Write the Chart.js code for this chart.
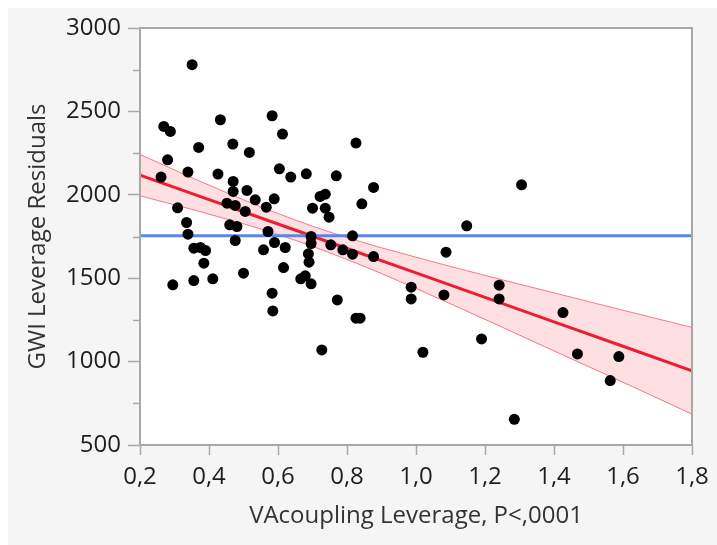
<!DOCTYPE html>
<html lang="en">
<head>
    <meta charset="UTF-8">
    <script src="https://cdn.jsdelivr.net/npm/chart.js"></script>
    <title>GWI Leverage Residuals</title>
    <style>
        body { margin: 0; background: #ffffff; }
        #panel { position: absolute; left: 8px; top: 8px; width: 709px; height: 537px; background: #f5f5f5; }
        #myChart { position: absolute; left: 0; top: 0; }
    </style>
</head>
<body>
    <div id="panel"></div>
    <canvas id="myChart" width="717" height="545"></canvas>

    <script>
        // leverage points
        const vaX = [0.351, 0.269, 0.288, 0.433, 0.583, 0.613, 0.370, 0.469, 0.517, 0.280,
                     0.261, 0.339, 0.426, 0.604, 0.637, 0.682, 0.470, 0.470, 0.510, 0.722,
                     0.737, 0.534, 0.589, 0.452, 0.476, 0.566, 0.505, 0.700, 0.737, 0.748,
                     0.309, 0.335, 0.460, 0.481, 0.339, 0.571, 0.696, 0.696, 0.476, 0.753,
                     0.356, 0.375, 0.390, 0.385, 0.295, 0.356, 0.411, 0.500, 0.558, 0.590,
                     0.621, 0.616, 0.583, 0.585, 0.688, 0.690, 0.666, 0.679, 0.696, 0.727,
                     0.826, 0.769, 0.877, 0.843, 1.147, 0.816, 0.788, 0.816, 0.877, 1.087,
                     0.986, 0.986, 1.081, 0.772, 0.826, 0.838, 1.241, 1.241, 1.190, 1.020,
                     1.306, 1.285, 1.426, 1.468, 1.588, 1.563];
        const gwiY = [2780, 2410, 2380, 2450, 2474, 2364, 2284, 2304, 2254, 2210,
                      2106, 2136, 2124, 2156, 2106, 2126, 2080, 2020, 2026, 1990,
                      2004, 1970, 1976, 1950, 1936, 1926, 1900, 1920, 1920, 1866,
                      1922, 1834, 1820, 1810, 1764, 1780, 1750, 1708, 1726, 1700,
                      1680, 1684, 1666, 1590, 1460, 1486, 1496, 1530, 1670, 1714,
                      1684, 1564, 1410, 1304, 1646, 1596, 1496, 1514, 1466, 1070,
                      2310, 2114, 2044, 1946, 1814, 1754, 1670, 1644, 1630, 1656,
                      1446, 1376, 1400, 1370, 1260, 1260, 1458, 1376, 1136, 1056,
                      2060, 654, 1294, 1046, 1030, 886];

        // fit line and confidence band
        const fitX = [0.2, 0.4, 0.6, 0.8, 1.0, 1.2, 1.4, 1.6, 1.8];
        const fitY = [2118, 1971, 1825, 1678, 1532, 1385, 1238, 1092, 945];
        const bandUpper = [2242, 2058, 1888, 1744, 1626, 1517, 1412, 1308, 1205];
        const bandLower = [1994, 1884, 1762, 1612, 1438, 1253, 1064, 876, 685];
        const meanY = 1755;

        const xTicks = [0.2, 0.4, 0.6, 0.8, 1.0, 1.2, 1.4, 1.6, 1.8];
        const yTicks = [500, 1000, 1500, 2000, 2500, 3000];
        const yMinorTicks = [750, 1250, 1750, 2250, 2750];

        const FONT = "'Open Sans', 'Noto Sans', sans-serif";
        const pts = (xs, ys) => xs.map((x, i) => ({ x: x, y: ys[i] }));

        const framePlugin = {
            id: 'frame',
            beforeDraw(chart) {
                const a = chart.chartArea, c = chart.ctx;
                c.save();
                c.fillStyle = '#ffffff';
                c.fillRect(a.left, a.top, a.right - a.left, a.bottom - a.top);
                c.restore();
            },
            afterDraw(chart) {
                const a = chart.chartArea, c = chart.ctx;
                const ys = chart.scales.y;
                c.save();
                c.strokeStyle = '#a8a8a8';
                c.lineWidth = 2;
                c.strokeRect(a.left, a.top, a.right - a.left, a.bottom - a.top);
                c.lineWidth = 1.5;
                yMinorTicks.forEach(v => {
                    const py = Math.round(ys.getPixelForValue(v)) + 0.5;
                    c.beginPath();
                    c.moveTo(a.left - 7, py);
                    c.lineTo(a.left, py);
                    c.stroke();
                });
                c.restore();
            }
        };

        const ctx = document.getElementById('myChart').getContext('2d');
        const myChart = new Chart(ctx, {
            type: 'scatter',
            data: {
                datasets: [{
                    label: 'points',
                    data: pts(vaX, gwiY),
                    backgroundColor: '#000000',
                    borderColor: '#000000',
                    pointRadius: 5.5,
                    borderWidth: 0
                }, {
                    type: 'line',
                    label: 'mean',
                    data: pts([0.2, 1.8], [meanY, meanY]),
                    borderColor: 'rgb(85, 135, 240)',
                    borderWidth: 3,
                    pointRadius: 0,
                    fill: false
                }, {
                    type: 'line',
                    label: 'fit',
                    data: pts(fitX, fitY),
                    borderColor: 'rgb(235, 30, 50)',
                    borderWidth: 3,
                    pointRadius: 0,
                    fill: false
                }, {
                    type: 'line',
                    label: 'upper',
                    data: pts(fitX, bandUpper),
                    borderColor: 'rgba(240, 70, 85, 0.7)',
                    backgroundColor: 'rgba(250, 60, 80, 0.16)',
                    borderWidth: 1,
                    pointRadius: 0,
                    tension: 0.4,
                    fill: '+1'
                }, {
                    type: 'line',
                    label: 'lower',
                    data: pts(fitX, bandLower),
                    borderColor: 'rgba(240, 70, 85, 0.7)',
                    borderWidth: 1,
                    pointRadius: 0,
                    tension: 0.4,
                    fill: false
                }]
            },
            options: {
                responsive: false,
                animation: false,
                layout: { padding: { left: 8, top: 28, right: 25, bottom: 0 } },
                plugins: { legend: { display: false }, tooltip: { enabled: false } },
                scales: {
                    x: {
                        type: 'linear',
                        min: 0.2,
                        max: 1.8,
                        afterBuildTicks: s => { s.ticks = xTicks.map(v => ({ value: v })); },
                        afterFit: s => { s.height = 100; },
                        grid: { drawOnChartArea: false, tickLength: 10, tickColor: '#a8a8a8', tickWidth: 1.5 },
                        border: { display: false },
                        ticks: {
                            color: '#1e1e1e',
                            font: { family: FONT, size: 24 },
                            padding: 8,
                            maxRotation: 0,
                            callback: v => v.toFixed(1).replace('.', ',')
                        },
                        title: {
                            display: true,
                            text: 'VAcoupling Leverage, P<,0001',
                            color: '#333333',
                            font: { family: FONT, size: 24 },
                            padding: { top: 4, bottom: 14 }
                        }
                    },
                    y: {
                        min: 500,
                        max: 3000,
                        afterBuildTicks: s => { s.ticks = yTicks.map(v => ({ value: v })); },
                        afterFit: s => { s.width = 132; },
                        grid: { drawOnChartArea: false, tickLength: 12, tickColor: '#a8a8a8', tickWidth: 1.5 },
                        border: { display: false },
                        ticks: {
                            color: '#1e1e1e',
                            font: { family: FONT, size: 24 },
                            padding: 7,
                            callback: v => String(v)
                        },
                        title: {
                            display: true,
                            text: 'GWI Leverage Residuals',
                            color: '#333333',
                            font: { family: FONT, size: 24 },
                            padding: { top: 16, bottom: 4 }
                        }
                    }
                }
            },
            plugins: [framePlugin]
        });
    </script>
</body>
</html>
